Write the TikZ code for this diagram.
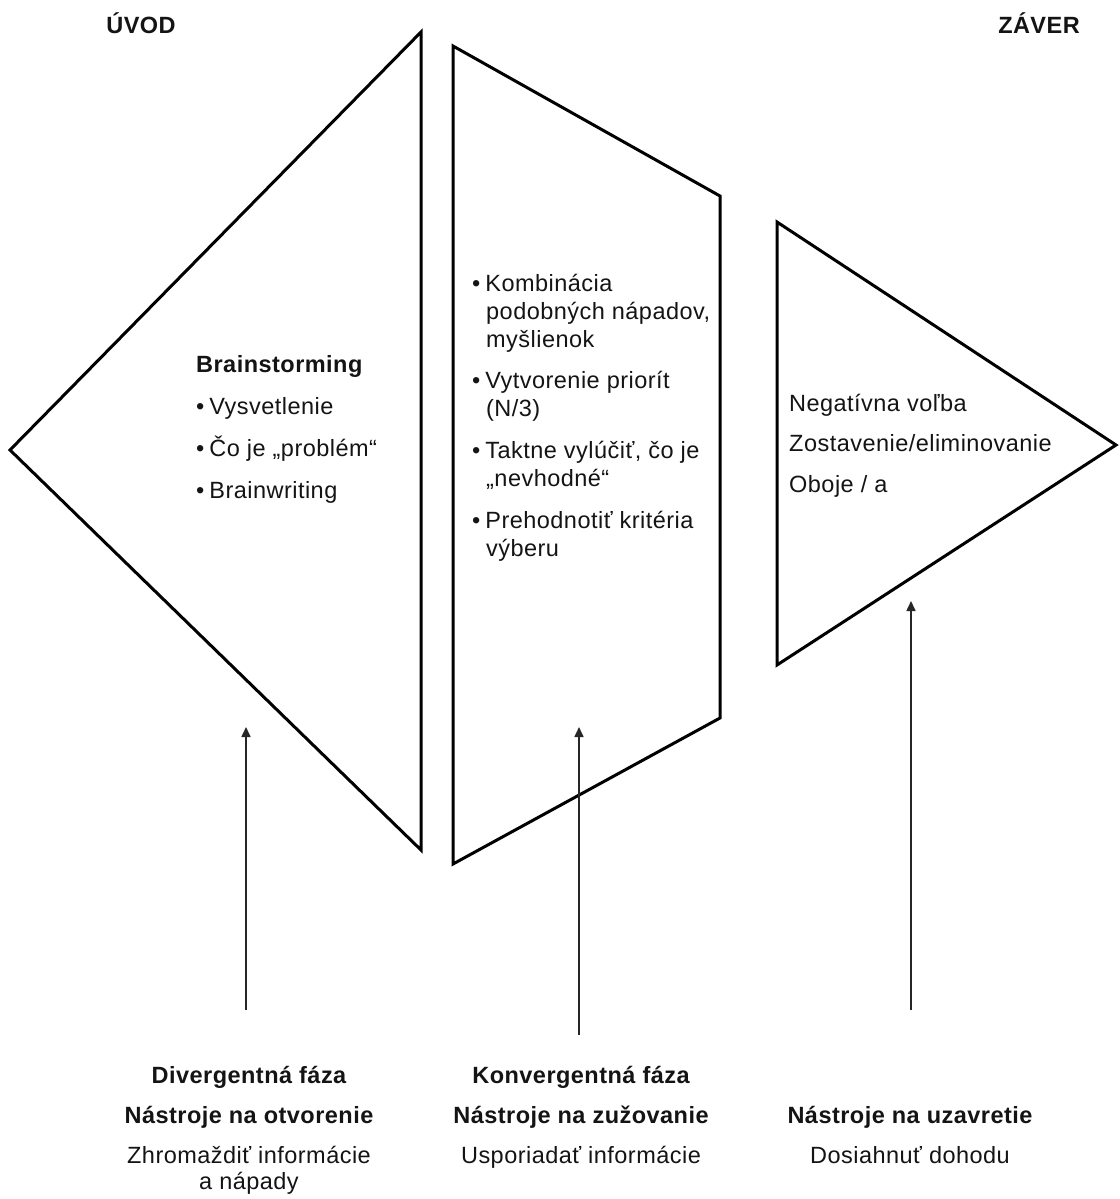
\documentclass[tikz,border=0pt]{standalone}
\usepackage{fontspec}
\setmainfont{Liberation Sans}[LetterSpace=2]
\usetikzlibrary{arrows.meta}
\newcommand{\mybul}{•\hspace{5pt}}
\begin{document}
\begin{tikzpicture}[x=1pt,y=-1pt,
  shapeline/.style={line width=3pt,line join=miter,draw=black},
  pointer/.style={line width=1.6pt,draw=black!85,-{Triangle[length=10pt,width=9pt]}},
  txt/.style={inner sep=0pt,font=\fontsize{23.5}{28}\selectfont,text=black!92,text height=17pt,text depth=5pt},
  btxt/.style={txt,font=\fontsize{23.5}{28}\selectfont\bfseries},
  lt/.style={txt,anchor=west},
  blt/.style={btxt,anchor=west}]
\useasboundingbox[fill=white] (0,0) rectangle (1119,1199);
% shapes
\draw[shapeline] (421,32) -- (10,450) -- (421,850) -- cycle;
\draw[shapeline] (453,46) -- (720,196) -- (720,718) -- (453,864) -- cycle;
\draw[shapeline] (777,222) -- (1116,445) -- (777,665) -- cycle;
% headers
\node[btxt] (uvod) at (141,28) {ÚVOD};
\node[btxt] (zaver) at (1039,28) {ZÁVER};
% left content
\node[blt] (brain) at (196,366) {Brainstorming};
\node[lt] (l1) at (196,408) {\mybul Vysvetlenie};
\node[lt] (l2) at (196,450) {\mybul Čo je „problém“};
\node[lt] (l3) at (196,492) {\mybul Brainwriting};
% middle content
\node[lt] (m1) at (472,285) {\mybul Kombinácia};
\node[lt] (m1b) at (486,313) {podobných nápadov,};
\node[lt] (m1c) at (486,341) {myšlienok};
\node[lt] (m2) at (472,382) {\mybul Vytvorenie priorít};
\node[lt] (m2b) at (486,410) {(N/3)};
\node[lt] (m3) at (472,452) {\mybul Taktne vylúčiť, čo je};
\node[lt] (m3b) at (486,480) {„nevhodné“};
\node[lt] (m4) at (472,522) {\mybul Prehodnotiť kritéria};
\node[lt] (m4b) at (486,550) {výberu};
% right content
\node[lt] (r1) at (789,405) {Negatívna voľba};
\node[lt] (r2) at (789,445) {Zostavenie/eliminovanie};
\node[lt] (r3) at (789,486) {Oboje / a};
% bottom labels
\node[btxt] (b1a) at (249,1077) {Divergentná fáza};
\node[btxt] (b1b) at (249,1117) {Nástroje na otvorenie};
\node[txt] (b1c) at (249,1157) {Zhromaždiť informácie};
\node[txt] (b1d) at (249,1183) {a nápady};
\node[btxt] (b2a) at (581,1077) {Konvergentná fáza};
\node[btxt] (b2b) at (581,1117) {Nástroje na zužovanie};
\node[txt] (b2c) at (581,1157) {Usporiadať informácie};
\node[btxt] (b3b) at (910,1117) {Nástroje na uzavretie};
\node[txt] (b3c) at (910,1157) {Dosiahnuť dohodu};
% arrows
\coordinate (a1s) at (246,1010); \coordinate (a1e) at (246,727);
\coordinate (a2s) at (579,1035); \coordinate (a2e) at (579,727);
\coordinate (a3s) at (911,1010); \coordinate (a3e) at (911,601);
\draw[pointer] (a1s) -- (a1e);
\draw[pointer] (a2s) -- (a2e);
\draw[pointer] (a3s) -- (a3e);
\end{tikzpicture}
\end{document}
